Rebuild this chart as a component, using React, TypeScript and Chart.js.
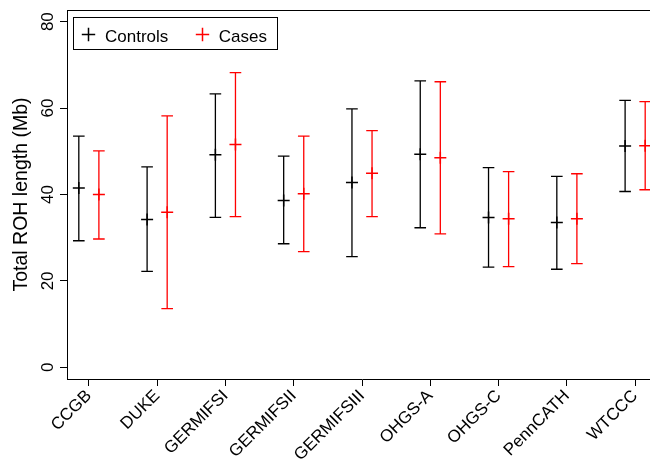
import React, { useEffect, useRef } from 'react';
import { Chart, registerables } from 'chart.js';

Chart.register(...registerables);

const categories = ['CCGB', 'DUKE', 'GERMIFSI', 'GERMIFSII', 'GERMIFSIII', 'OHGS-A', 'OHGS-C', 'PennCATH', 'WTCCC'];
const controlsMean = [41.5, 34.2, 49.2, 38.6, 42.8, 49.3, 34.7, 33.5, 51.2];
const controlsLow = [29.3, 22.2, 34.7, 28.6, 25.6, 32.3, 23.2, 22.7, 40.7];
const controlsHigh = [53.5, 46.4, 63.3, 48.9, 59.8, 66.3, 46.2, 44.2, 61.8];
const casesMean = [40.0, 35.9, 51.6, 40.2, 44.9, 48.5, 34.4, 34.4, 51.3];
const casesLow = [29.7, 13.6, 34.9, 26.8, 34.9, 30.9, 23.3, 24.0, 41.1];
const casesHigh = [50.1, 58.2, 68.2, 53.5, 54.8, 66.1, 45.3, 44.8, 61.5];
const yTicks = [0, 20, 40, 60, 80];
const seriesNames = ['Controls', 'Cases'];
const yTitle = 'Total ROH length (Mb)';

const FONT = '"Liberation Sans", Arial, Helvetica, sans-serif';

export default function App() {
  const ref = useRef<HTMLCanvasElement>(null);

  useEffect(() => {
    const canvas = ref.current;
    if (!canvas) return;
    const dodge = 0.147;
    const cap = 5.8;
    const groups = [
      { label: seriesNames[0], color: '#000000', mean: controlsMean, low: controlsLow, high: controlsHigh, off: -dodge },
      { label: seriesNames[1], color: '#ff0000', mean: casesMean, low: casesLow, high: casesHigh, off: dodge },
    ];

    const errorBars = {
      id: 'errorBars',
      afterDatasetsDraw(chart: any) {
        const { ctx, scales } = chart;
        const x = scales.x;
        const y = scales.y;
        ctx.save();
        ctx.lineWidth = 1.3;
        groups.forEach((g) => {
          ctx.strokeStyle = g.color;
          categories.forEach((_, i) => {
            const px = x.getPixelForValue(i + 1 + g.off);
            const yl = y.getPixelForValue(g.low[i]);
            const yh = y.getPixelForValue(g.high[i]);
            ctx.beginPath();
            ctx.moveTo(px, yl);
            ctx.lineTo(px, yh);
            ctx.moveTo(px - cap, yl);
            ctx.lineTo(px + cap, yl);
            ctx.moveTo(px - cap, yh);
            ctx.lineTo(px + cap, yh);
            ctx.stroke();
          });
        });
        ctx.restore();
      },
    };

    const frameLegend = {
      id: 'frameLegend',
      afterDraw(chart: any) {
        const { ctx, chartArea } = chart;
        ctx.save();
        // top frame line
        ctx.strokeStyle = '#000';
        ctx.lineWidth = 1;
        ctx.beginPath();
        ctx.moveTo(chartArea.left, chartArea.top + 0.5);
        ctx.lineTo(chartArea.right, chartArea.top + 0.5);
        ctx.stroke();
        // legend box
        const lx = chartArea.left + 6.5;
        const ly = chartArea.top + 7.5;
        const lw = 204;
        const lh = 32;
        ctx.strokeRect(lx, ly, lw, lh);
        ctx.font = `17px ${FONT}`;
        ctx.textBaseline = 'alphabetic';
        ctx.textAlign = 'left';
        const cy = ly + 17;
        const items = [
          { mx: lx + 15, tx: lx + 31.5, g: groups[0] },
          { mx: lx + 129, tx: lx + 145.3, g: groups[1] },
        ];
        items.forEach((it) => {
          ctx.strokeStyle = it.g.color;
          ctx.lineWidth = 1.5;
          ctx.beginPath();
          ctx.moveTo(it.mx - 6.7, cy);
          ctx.lineTo(it.mx + 6.7, cy);
          ctx.moveTo(it.mx, cy - 6.7);
          ctx.lineTo(it.mx, cy + 6.7);
          ctx.stroke();
          ctx.fillStyle = '#000';
          ctx.fillText(it.g.label, it.tx, cy + 7);
        });
        ctx.restore();
      },
    };

    const chart = new Chart(canvas, {
      type: 'scatter',
      data: {
        datasets: groups.map((g) => ({
          label: g.label,
          data: categories.map((_, i) => ({ x: i + 1 + g.off, y: g.mean[i] })),
          pointStyle: 'cross',
          radius: 6,
          pointRadius: 6,
          borderColor: g.color,
          backgroundColor: g.color,
          pointBorderWidth: 1.5,
          borderWidth: 1.5,
        })),
      },
      options: {
        animation: false,
        responsive: false,
        devicePixelRatio: 1,
        layout: { padding: { top: 10, right: 13, left: 0, bottom: 0 } },
        plugins: {
          legend: { display: false },
          tooltip: { enabled: false },
        },
        scales: {
          x: {
            type: 'linear',
            min: 0.68,
            max: 9.32,
            afterBuildTicks: (scale: any) => {
              scale.ticks = categories.map((_, i) => ({ value: i + 1 }));
            },
            afterFit: (scale: any) => {
              scale.height = 81;
              scale.paddingLeft = 0;
              scale.paddingRight = 0;
            },
            ticks: {
              autoSkip: false,
              minRotation: 45,
              maxRotation: 45,
              padding: 0,
              color: '#000',
              font: { family: FONT, size: 17 },
              callback: (v: any) => categories[Math.round(Number(v)) - 1] ?? '',
            },
            grid: {
              drawOnChartArea: false,
              drawTicks: true,
              tickLength: 7,
              color: '#000',
              tickWidth: 1,
            },
            border: { display: true, color: '#000', width: 1 },
          },
          y: {
            type: 'linear',
            min: -2.7,
            max: 82.7,
            afterBuildTicks: (scale: any) => {
              scale.ticks = yTicks.map((v) => ({ value: v }));
            },
            afterFit: (scale: any) => {
              scale.width = 67;
              scale.paddingTop = 0;
              scale.paddingBottom = 0;
            },
            ticks: {
              autoSkip: false,
              minRotation: 90,
              maxRotation: 90,
              crossAlign: 'center',
              padding: 2,
              color: '#000',
              font: { family: FONT, size: 17 },
            },
            grid: {
              drawOnChartArea: false,
              drawTicks: true,
              tickLength: 7,
              color: '#000',
              tickWidth: 1,
            },
            border: { display: true, color: '#000', width: 1 },
            title: {
              display: true,
              text: yTitle,
              color: '#000',
              font: { family: FONT, size: 19.5 },
              padding: { top: 10, bottom: 0 },
            },
          },
        },
      },
      plugins: [errorBars, frameLegend],
    } as any);

    return () => chart.destroy();
  }, []);

  return (
    <div style={{ position: 'fixed', left: 0, top: 0, width: 650, height: 460, overflow: 'hidden', background: '#fff' }}>
      <canvas ref={ref} width={670} height={460} style={{ width: 670, height: 460, display: 'block' }} />
    </div>
  );
}
